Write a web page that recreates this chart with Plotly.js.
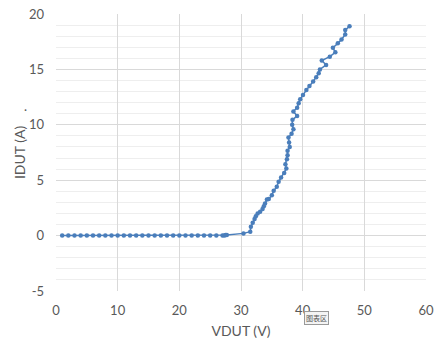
<!DOCTYPE html>
<html>
<head>
<meta charset="utf-8">
<script src="https://cdn.plot.ly/plotly-3.0.1.min.js"></script>
<style>html,body{margin:0;padding:0;background:#fff;}#chart{width:435px;height:340px;}</style>
</head>
<body>
<div id="chart"></div>
<script>
const vdut = [1,2,3,4,5,6,7,8,9,10,11,12,13,14,15,16,17,18,19,20,21,22,23,24,25,26,27,27.3,27.5,27.7,
  30.4,31.5,31.6,31.9,32.2,32.4,32.7,33.1,33.5,33.7,33.9,34.2,34.5,35.0,35.3,35.8,36.1,36.5,37.0,37.35,37.2,37.45,37.55,37.55,37.9,37.8,37.7,38.2,38.5,38.3,38.35,39.1,38.5,39.1,39.35,39.6,40.05,40.6,41.1,41.7,42.2,42.6,42.8,43.8,43.1,44.4,45.3,44.9,45.7,46.3,46.9,46.9,47.6];
const idut = [0,0,0,0,0,0,0,0,0,0,0,0,0,0,0,0,0,0,0,0,0,0,0,0,0,0,0,0.02,0.05,0.05,
  0.2,0.35,0.8,1.15,1.5,1.75,2.0,2.15,2.4,2.65,2.9,3.25,3.3,3.65,4.05,4.4,4.85,5.25,5.65,6.05,6.45,6.9,7.25,7.65,8.0,8.4,8.85,9.2,9.6,10.0,10.45,10.8,11.2,11.55,11.95,12.3,12.7,13.15,13.5,13.9,14.3,14.65,15.0,15.4,15.8,16.15,16.55,16.95,17.35,17.7,18.15,18.55,18.9];
const xTickVals = [0,10,20,30,40,50,60];
const xTickText = ['0','10','20','30','40','50','60'];
const yTickVals = [-5,0,5,10,15,20];
const yTickText = ['-5','0','5','10','15','20'];
const xTitle = 'VDUT (V)';
const yTitle = 'IDUT (A)';

const trace = {
  x: vdut, y: idut, type: 'scatter', mode: 'lines+markers',
  line: {color: '#4a7ebb', width: 1.5},
  marker: {color: '#4a7ebb', size: 4.5},
  hoverinfo: 'none'
};
const font = {family: 'Lato, "Liberation Sans", sans-serif', color: '#595959'};
const layout = {
  width: 435, height: 340,
  margin: {l: 56, r: 9, t: 14, b: 49},
  paper_bgcolor: '#fff', plot_bgcolor: '#fff',
  showlegend: false,
  font: font,
  xaxis: {
    range: [0, 60], tickvals: xTickVals, ticktext: xTickText,
    showgrid: true, gridcolor: '#d9d9d9', gridwidth: 1,
    zeroline: false, showline: false, ticks: '',
    ticklabelstandoff: 10,
    tickfont: {size: 13, color: '#595959'},
    title: {text: xTitle, font: {size: 14, color: '#595959'}, standoff: 9}
  },
  yaxis: {
    range: [-5, 20], tickvals: yTickVals, ticktext: yTickText,
    showgrid: true, gridcolor: '#d9d9d9', gridwidth: 1,
    minor: {dtick: 1, tick0: 0, showgrid: true, gridcolor: '#eeeeee', gridwidth: 1},
    zeroline: false, showline: false, ticks: '',
    ticklabelstandoff: 11,
    tickfont: {size: 13, color: '#595959'},
    title: {text: yTitle, font: {size: 14, color: '#595959'}, standoff: 0}
  },
  annotations: [
    {text: '.', showarrow: false, xref: 'paper', yref: 'paper',
     xanchor: 'center', yanchor: 'bottom', font: {size: 13, color: '#595959'}},
    {text: '图表区', xref: 'paper', yref: 'paper', showarrow: false,
     font: {size: 7, color: '#555', family: '"Noto Sans CJK SC", sans-serif'},
     bgcolor: '#f4f4f4', bordercolor: '#999', borderwidth: 1, borderpad: 1}
  ]
};
const pw = 435 - 56 - 9, ph = 340 - 14 - 49;
layout.annotations[0].x = (25 - 56) / pw;
layout.annotations[0].y = (340 - 49 - 116) / ph;
layout.annotations[1].x = (329 - 56) / pw;
layout.annotations[1].y = (340 - 49 - 325) / ph;
Plotly.newPlot('chart', [trace], layout, {displayModeBar: false, staticPlot: true});
</script>
</body>
</html>
